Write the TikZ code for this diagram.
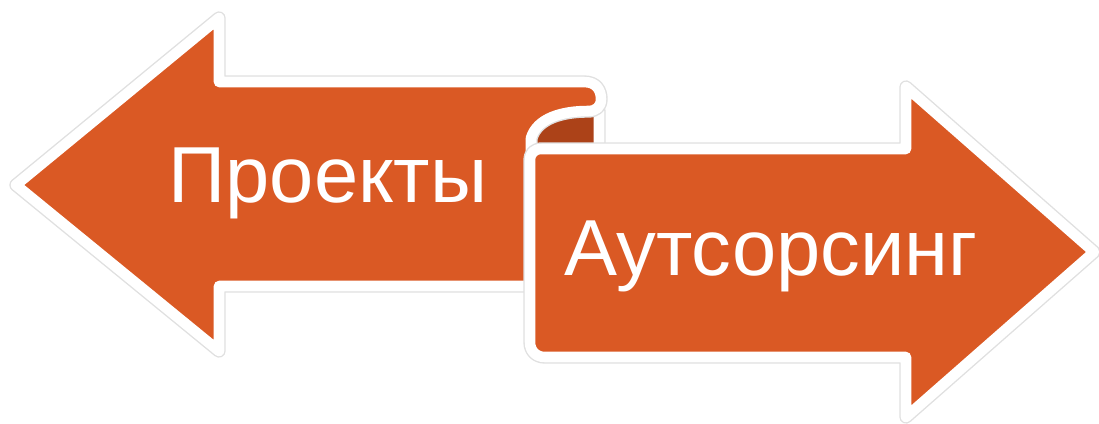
\documentclass[tikz,border=0pt]{standalone}
\usepackage{fontspec}
\setmainfont{Liberation Sans}
\usetikzlibrary{calc}
\definecolor{arroworange}{RGB}{218,89,36}
\definecolor{rolldark}{RGB}{172,66,24}

\begin{document}
\begin{tikzpicture}[x=0.01cm,y=-0.01cm,line join=round,line cap=round
  ,face/.style={fill=arroworange,draw=white,line width=3pt,
    preaction={draw=black!12,line width=3.8pt}}
  ,arrowtext/.style={text=white,inner sep=0pt,
    font=\fontsize{22.6}{27}\selectfont}]
\useasboundingbox (0,0) rectangle (1099,424);
\def\hl{219} % head base, left arrow
\def\hr{906} % head base, right arrow
% back side of the roll
\path[face,fill=rolldark] (531,150) -- (531,138)
  .. controls (537,118) and (562,111) .. (588,111)
  -- (599,111) -- (599,150) -- cycle;
% left arrow with the rolled end
\path[face] (16,185) -- (\hl,18) -- (\hl,82) -- (584,82)
  .. controls (597,82) and (601,91) .. (601,99)
  .. controls (601,107) and (596,111) .. (588,111)
  .. controls (562,111) and (537,118) .. (531,138)
  -- (531,286) -- (\hl,286) -- (\hl,351) -- cycle;
% right arrow
\path[face] (\hr,149) -- (\hr,87) -- (1094,252) -- (\hr,417)
  -- (\hr,357) -- (545,357) .. controls (536,357) and (530,351) .. (530,342)
  -- (530,161) .. controls (530,153) and (534,149) .. (542,149) -- cycle;
\node[arrowtext,anchor=base] (proj) at (328,202) {Проекты};
\node[arrowtext,anchor=base] (outs) at (771,275) {Аутсорсинг};
\end{tikzpicture}
\end{document}
